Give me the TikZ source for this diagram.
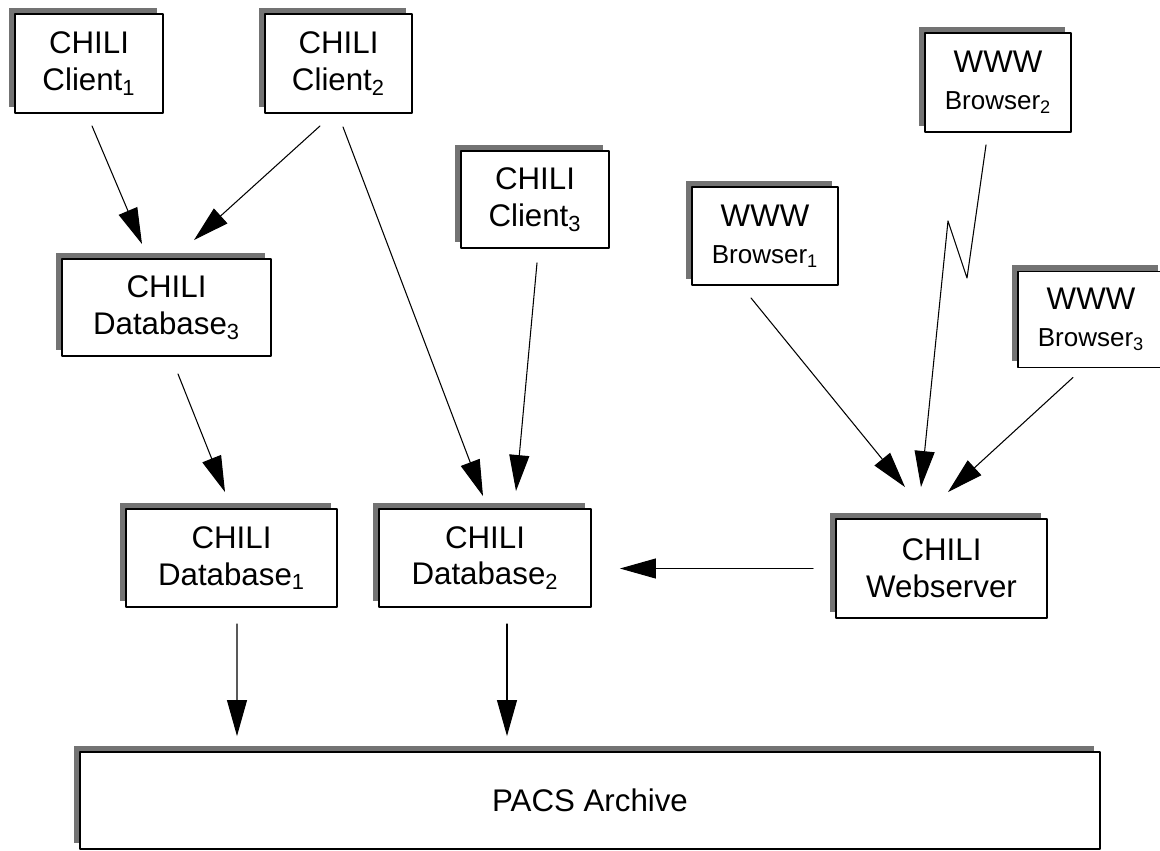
\documentclass[tikz,border=0pt]{standalone}
\usepackage{fontspec}
\setmainfont{Liberation Sans}
\usetikzlibrary{arrows.meta,shadows}

\tikzset{
  chilibox/.style={draw=black,line width=1.1pt,fill=white,align=center,inner sep=0pt,
                   general shadow={fill=black!55,shadow xshift=-0.12cm,shadow yshift=0.13cm},
                   font=\fontsize{17.8pt}{21pt}\selectfont},
  link/.style={line width=0.6pt,-{Triangle[length=0.72cm,width=0.4cm]}}
}
\newcommand{\brwtext}[1]{{\fontsize{14.8pt}{20pt}\selectfont Browser\textsubscript{#1}}}

\begin{document}
\begin{tikzpicture}[line cap=round,line join=round,x=0.02cm,y=-0.02cm]
                                      \useasboundingbox (0,0) rectangle (1160,850);
                                      \clip (0,0) rectangle (1160,850);
                                      % clients and databases
                                      \node[chilibox,minimum width=2.96cm,minimum height=1.98cm] (client1) at (89,63.5) {CHILI\\Client\textsubscript{1}};
                                      \node[chilibox,minimum width=2.94cm,minimum height=1.98cm] (client2) at (338.5,63.5) {CHILI\\Client\textsubscript{2}};
                                      \node[chilibox,minimum width=2.96cm,minimum height=1.94cm] (client3) at (535,199.5) {CHILI\\Client\textsubscript{3}};
                                      \node[chilibox,minimum width=4.18cm,minimum height=1.94cm] (db3) at (166.5,307.5) {CHILI\\Database\textsubscript{3}};
                                      \node[chilibox,minimum width=4.22cm,minimum height=1.96cm] (db1) at (231.5,558) {CHILI\\Database\textsubscript{1}};
                                      \node[chilibox,minimum width=4.24cm,minimum height=1.96cm] (db2) at (485,558) {CHILI\\Database\textsubscript{2}};
                                      % www side
                                      \node[chilibox,minimum width=2.92cm,minimum height=1.96cm] (brw1) at (765,236) {WWW\\\brwtext{1}};
                                      \node[chilibox,minimum width=2.92cm,minimum height=1.98cm] (brw2) at (998,82.5) {WWW\\\brwtext{2}};
                                      \node[chilibox,minimum width=2.92cm,minimum height=1.92cm] (brw3) at (1091,319.5) {WWW\\\brwtext{3}};
                                      \node[chilibox,minimum width=4.22cm,minimum height=1.98cm] (web) at (941.5,568.5) {CHILI\\Webserver};
                                      \node[chilibox,minimum width=20.4cm,minimum height=1.94cm] (pacs) at (590,800.5) {PACS Archive};
                                      % arrows
                                      \draw[link] ([shift={(3,12)}]client1.south) -- ([shift={(-24.5,-14)}]db3.north);
                                      \draw[link] ([shift={(-18.5,12)}]client2.south) -- ([shift={(27.5,-18)}]db3.north);
                                      \draw[link] ([shift={(4.5,13)}]client2.south) -- ([shift={(-2,-12)}]db2.north);
                                      \draw[link] ([shift={(2,14)}]client3.south) -- ([shift={(31,-17)}]db2.north);
                                      \draw[link] ([shift={(11.5,17)}]db3.south) -- ([shift={(-6.5,-16)}]db1.north);
                                      \draw[link] ([shift={(5.5,16)}]db1.south) -- ([shift={(-353,-15)}]pacs.north);
                                      \draw[link] ([shift={(22,16)}]db2.south) -- ([shift={(-83,-15)}]pacs.north);
                                      \draw[link] ([shift={(-22,0)}]web.west) -- ([shift={(28,10.5)}]db2.east);
                                      \draw[link] ([shift={(-14,12)}]brw1.south) -- ([shift={(-36.5,-31)}]web.north);
                                      \draw[link] ([shift={(-12,12)}]brw2.south) -- ([shift={(-31,145)}]brw2.south)
                                                  -- ([shift={(-50,88)}]brw2.south) -- ([shift={(-20.5,-31)}]web.north);
                                      \draw[link] ([shift={(-18,9)}]brw3.south) -- ([shift={(6.5,-26)}]web.north);
\end{tikzpicture}
\end{document}
